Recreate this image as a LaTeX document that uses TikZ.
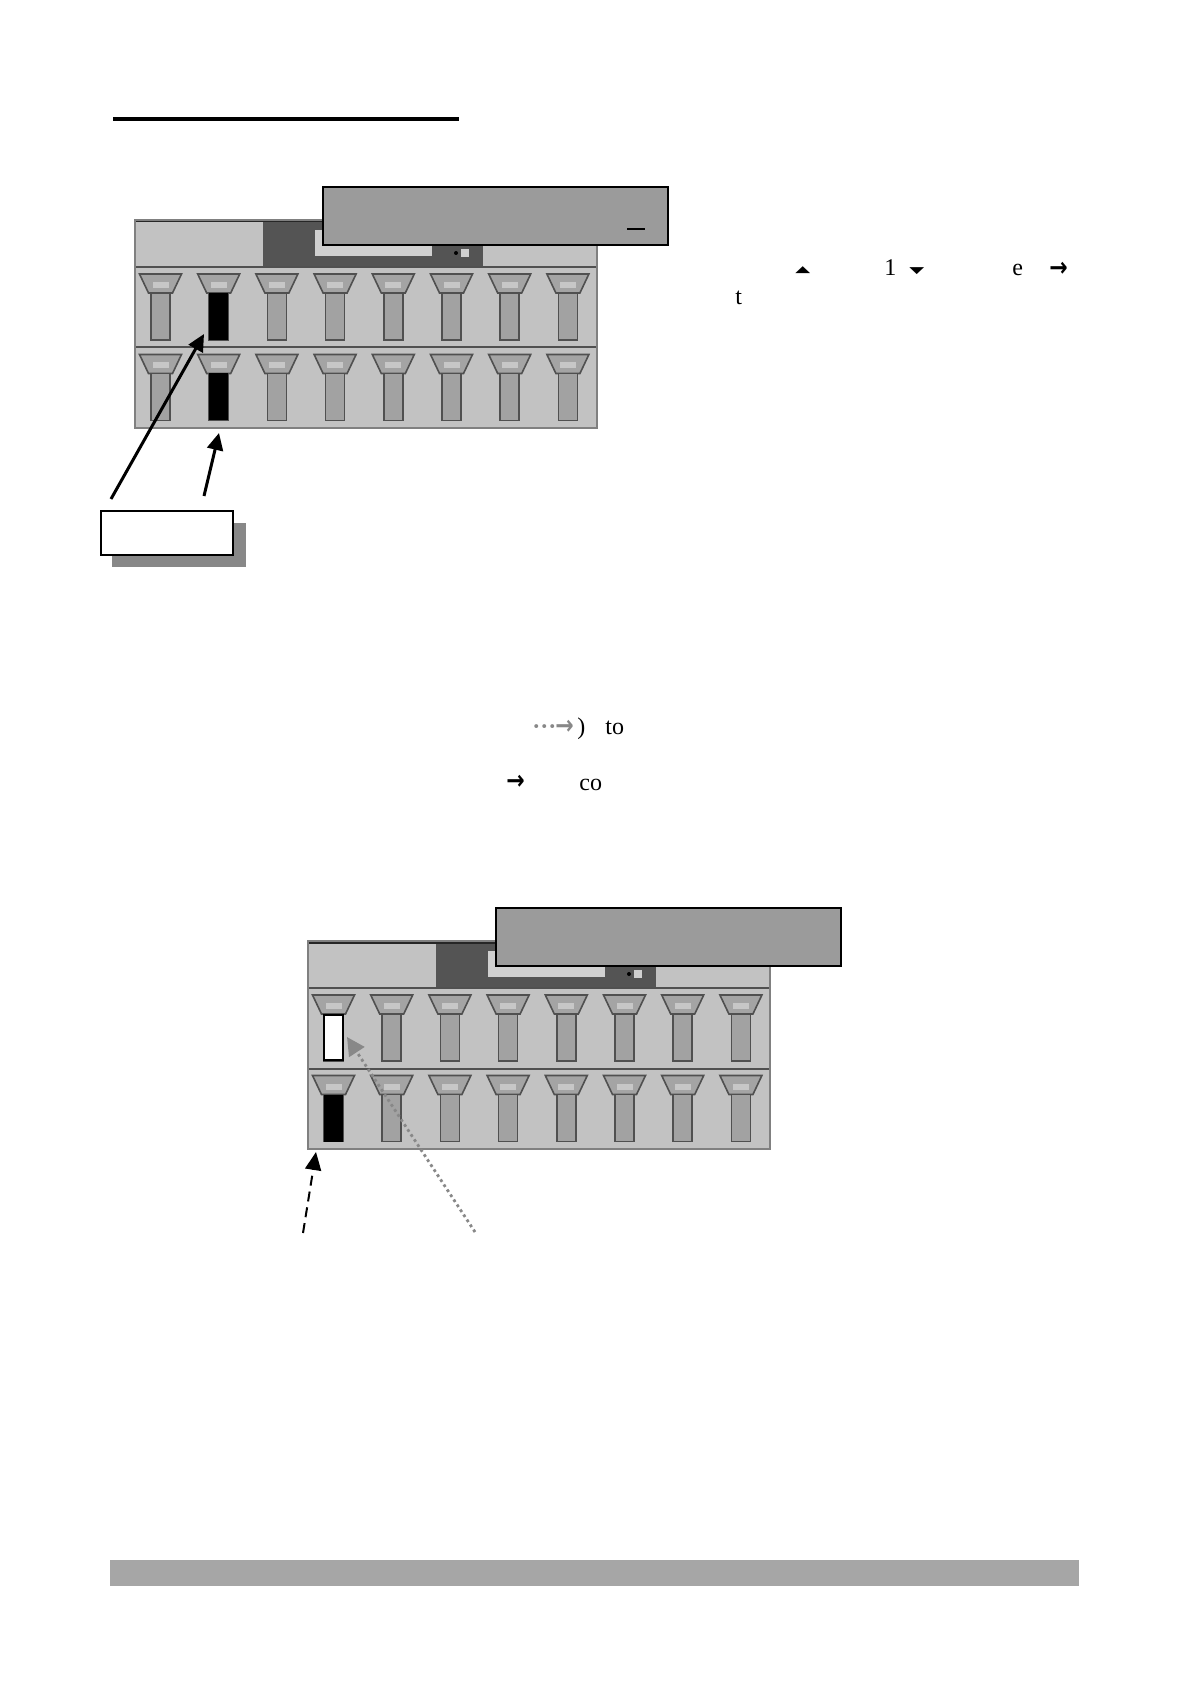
\documentclass[tikz,border=0pt]{standalone}
\usepackage{fontspec}
\setmainfont{Liberation Serif}
\newfontfamily\dejavu{DejaVu Sans}
\usetikzlibrary{arrows.meta}
\definecolor{panelbg}{HTML}{C2C2C2}
\definecolor{darkhdr}{HTML}{545454}
\definecolor{lightinner}{HTML}{D0D0D0}
\definecolor{funnelfill}{HTML}{A4A4A4}
\definecolor{funneldraw}{HTML}{505050}
\definecolor{stemfill}{HTML}{A2A2A2}
\definecolor{boxgray}{HTML}{9B9B9B}
\definecolor{footgray}{HTML}{A6A6A6}
\definecolor{shadowgray}{HTML}{888888}
\definecolor{arrowgray}{HTML}{888888}
\definecolor{bandlight}{HTML}{D6D6D6}
\newcommand{\panelbody}{%
  \fill[panelbg] (135,220) rectangle (597,428);
  \fill[darkhdr] (263,221) rectangle (483,267);
  \fill[lightinner] (315,230) rectangle (432,256);
  \fill[black] (456,253) circle (2);
  \fill[lightinner] (461,249) rectangle (469,257);
  \draw[line width=1.5pt, black!85] (135,221) -- (597,221);
  \draw[line width=1pt, funneldraw] (135,267) -- (597,267);
  \draw[line width=1pt, funneldraw] (135,347.5) -- (597,347.5);
  \draw[line width=0.6pt, gray] (135,220) rectangle (597,428);
  \foreach \i in {0,...,7}{%
    \pgfmathsetmacro{\cx}{160.5+58.2*\i}
    \foreach \r in {267,347.5}{%
      \draw[funnelsty] ({\cx-21},{\r+7}) -- ({\cx+21},{\r+7}) -- ({\cx+12},{\r+26}) -- ({\cx-12},{\r+26}) -- cycle;
      \fill[bandsty] ({\cx-8},{\r+15}) rectangle ({\cx+8},{\r+21});
      \draw[stemsty] ({\cx-9.5},{\r+26}) rectangle ({\cx+9.5},{\r+73});
    }
  }
}
\newcommand{\thickarrow}{\scalebox{1}[1.2]{→}}
\begin{document}
\begin{tikzpicture}[x=0.5pt,y=-0.5pt,
  funnelsty/.style={fill=funnelfill, draw=funneldraw, line width=0.8pt},
  stemsty/.style={fill=stemfill, draw=funneldraw, line width=0.8pt},
  bandsty/.style={fill=bandlight, opacity=0.7},
  graybox/.style={fill=boxgray, draw=black, line width=1pt},
  txt/.style={inner sep=0pt, font=\fontsize{12}{14}\selectfont},
  arrowtxt/.style={inner sep=0pt, font=\dejavu\bfseries\fontsize{11}{12}\selectfont},
  solidarrow/.style={line width=1.5pt, -{Triangle[length=8.5pt,width=8pt]}},
  dasharrow/.style={line width=1pt, dash pattern=on 5pt off 3pt, -{Triangle[length=9pt,width=8pt]}},
  dotarrow/.style={arrowgray, line width=1.4pt, dash pattern=on 1.4pt off 1.6pt, -{Triangle[length=9pt,width=9pt]}}
]
\useasboundingbox (0,0) rectangle (1190,1684);

% title underline
\draw[line width=1.7pt] (113,119) -- (459,119);

% ---------- panel 1 ----------
\panelbody
\fill[black] (209.2,293) rectangle (228.2,340);
\fill[black] (209.2,373.5) rectangle (228.2,420.5);
\draw[graybox] (323,187) rectangle (668,245);
\draw[line width=1.2pt] (627,229) -- (645,229);

% label box with shadow
\fill[shadowgray] (112,523) rectangle (246,567);
\node[draw=black, fill=white, line width=1.1pt, minimum width=66pt, minimum height=22pt, inner sep=0pt] (lbl) at (167,533) {};

% arrows panel 1
\coordinate (a1s) at (111,499);
\coordinate (a1e) at (204,334);
\coordinate (a2s) at (204,496);
\coordinate (a2e) at (219,433);
\draw[solidarrow] (a1s) -- (a1e);
\draw[solidarrow] (a2s) -- (a2e);

% right text line
\node[inner sep=0pt, anchor=base west] (tri1) at (795,273) {\scalebox{1}[0.47]{\dejavu\fontsize{9.7}{10}\selectfont ▲}};
\node[txt, anchor=base west] (one) at (884,276) {1};
\node[inner sep=0pt, anchor=base west] (tri2) at (909,274) {\scalebox{1}[0.47]{\dejavu\fontsize{9.7}{10}\selectfont ▼}};
\node[txt, anchor=base west] (e1) at (1012,276) {e};
\node[arrowtxt, anchor=west] (arr1) at (1049,269) {\thickarrow};
\node[txt, anchor=base west] (t1) at (735,305) {t};

% middle text
\node[txt, anchor=base west, text=arrowgray] (dots) at (532,734) {\textbf{···}};
\node[arrowtxt, anchor=west, text=arrowgray] (arr2) at (555,727) {\thickarrow};
\node[txt, anchor=base west] (paren) at (577,734) {)};
\node[txt, anchor=base west] (to) at (605,734) {to};
\node[arrowtxt, anchor=west] (arr3) at (506,782) {\thickarrow};
\node[txt, anchor=base west] (co) at (579,790) {co};

% ---------- panel 2 ----------
\begin{scope}[shift={(173,721)}]
\panelbody
\draw[fill=white, draw=black, line width=0.8pt] (151,294) rectangle (170,339);
\fill[black] (151,373.5) rectangle (170,420.5);
\draw[graybox] (323,187) rectangle (668,245);
\end{scope}

\coordinate (b1s) at (303,1233);
\coordinate (b1e) at (316,1152);
\coordinate (b2s) at (475,1232);
\coordinate (b2e) at (347,1037);
\draw[dasharrow] (b1s) -- (b1e);
\draw[dotarrow] (b2s) -- (b2e);

% footer bar
\fill[footgray] (110,1560) rectangle (1079,1586);
\end{tikzpicture}
\end{document}
